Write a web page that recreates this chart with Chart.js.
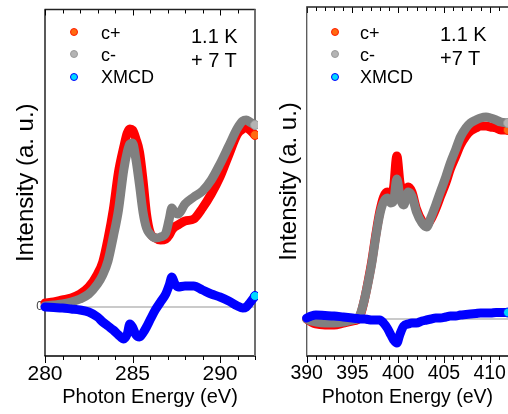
<!DOCTYPE html>
<html><head><meta charset="utf-8">
<script src="https://cdn.jsdelivr.net/npm/chart.js@4.4.0/dist/chart.umd.min.js"></script>
<style>
html,body{margin:0;padding:0;background:#fff;width:508px;height:414px;overflow:hidden;font-family:"Liberation Sans",Arial,sans-serif;}
.wrap{position:absolute;top:0;height:414px;}
.t{position:absolute;line-height:1;white-space:nowrap;color:#000;}
.m{position:absolute;border-radius:50%;box-sizing:border-box;border-width:1px;border-style:solid;}
</style></head><body>
<div class="wrap" style="left:0;width:258px"><canvas id="c1" width="258" height="414"></canvas></div>
<div class="wrap" style="left:260px;width:248px"><canvas id="c2" width="248" height="414"></canvas></div>
<div id="overlay"></div>
<script>
// ---------- data (left panel: C K-edge) ----------
const leftEnergy = [280, 280.5, 281, 281.5, 282, 282.5, 283, 283.3, 283.6, 283.9, 284.2, 284.5, 284.7, 284.85, 285.0, 285.2, 285.4, 285.6, 285.8, 286.0, 286.3, 286.6, 286.9, 287.1, 287.25, 287.4, 287.6, 288.0, 288.5, 289.0, 289.5, 290.0, 290.5, 291.0, 291.3, 291.5, 291.7, 292.0];
const leftCplus = [0.04, 0.05, 0.07, 0.09, 0.13, 0.20, 0.33, 0.45, 0.68, 0.97, 1.35, 1.60, 1.74, 1.78, 1.77, 1.68, 1.55, 1.27, 0.93, 0.75, 0.69, 0.67, 0.68, 0.72, 0.77, 0.80, 0.82, 0.86, 0.88, 0.99, 1.13, 1.30, 1.52, 1.73, 1.78, 1.80, 1.77, 1.72];
const leftCminus = [0.01, 0.02, 0.03, 0.05, 0.08, 0.13, 0.23, 0.32, 0.46, 0.70, 0.97, 1.37, 1.55, 1.63, 1.64, 1.47, 1.22, 0.95, 0.79, 0.73, 0.69, 0.70, 0.74, 0.88, 0.99, 0.95, 0.93, 1.03, 1.10, 1.16, 1.27, 1.43, 1.61, 1.79, 1.86, 1.87, 1.85, 1.82];
const leftXMCD = [0.0, -0.005, -0.01, -0.02, -0.03, -0.05, -0.10, -0.15, -0.19, -0.23, -0.28, -0.32, -0.27, -0.17, -0.20, -0.28, -0.30, -0.26, -0.20, -0.13, -0.03, 0.05, 0.13, 0.22, 0.30, 0.24, 0.20, 0.21, 0.21, 0.17, 0.13, 0.10, 0.06, 0.01, -0.01, 0.0, 0.04, 0.11];

// ---------- data (right panel: N K-edge) ----------
const rightEnergy = [390, 390.5, 391, 392, 393, 394, 395, 395.5, 395.9, 396.3, 396.7, 397.1, 397.6, 398.0, 398.4, 398.8, 399.2, 399.5, 399.85, 400.2, 400.6, 401.1, 401.5, 402.0, 402.6, 403.1, 403.6, 404.1, 404.6, 405.2, 405.7, 406.3, 406.8, 407.4, 407.9, 408.5, 409.0, 409.6, 410.1, 410.7, 411.2, 412.0];
const rightCplus = [0.0, -0.03, -0.05, -0.06, -0.06, -0.04, -0.02, -0.01, 0.05, 0.19, 0.37, 0.57, 0.87, 1.08, 1.22, 1.27, 1.25, 1.32, 1.63, 1.36, 1.26, 1.32, 1.27, 1.10, 0.98, 0.94, 1.00, 1.10, 1.22, 1.36, 1.50, 1.63, 1.74, 1.83, 1.88, 1.91, 1.93, 1.93, 1.92, 1.91, 1.89, 1.89];
const rightCminus = [0.0, -0.02, -0.03, -0.04, -0.04, -0.03, -0.01, 0.0, 0.06, 0.19, 0.36, 0.55, 0.85, 1.05, 1.17, 1.21, 1.16, 1.18, 1.40, 1.22, 1.14, 1.27, 1.23, 1.07, 0.96, 0.92, 1.02, 1.14, 1.27, 1.42, 1.56, 1.70, 1.82, 1.91, 1.96, 1.99, 2.01, 2.02, 2.01, 1.99, 1.97, 1.96];
const rightXMCD = [0.01, 0.03, 0.04, 0.035, 0.03, 0.02, 0.01, 0.005, 0.0, 0.0, -0.005, -0.01, -0.01, -0.01, -0.04, -0.09, -0.16, -0.21, -0.24, -0.15, -0.07, -0.05, -0.04, -0.04, -0.02, -0.01, 0.0, 0.01, 0.01, 0.02, 0.03, 0.03, 0.04, 0.045, 0.05, 0.055, 0.06, 0.06, 0.06, 0.065, 0.065, 0.065];

const seriesNames = ['c+', 'c-', 'XMCD'];
const leftNotes = ['1.1 K', '+ 7 T'];
const rightNotes = ['1.1 K', '+7 T'];
const xTitle = 'Photon Energy (eV)';
const yTitle = 'Intensity (a. u.)';

const FAM = '"Liberation Sans", Arial, sans-serif';
const STY = [
  {line:'#ff0000', fill:'#ff6a10', edge:'#ff1a00', order:3},
  {line:'#808080', fill:'#b4b4b4', edge:'#9a9a9a', order:2},
  {line:'#0000ff', fill:'#00d8ff', edge:'#0000ff', order:1}
];

function ds(i, E, Y) {
  const s = STY[i];
  return {
    label: seriesNames[i],
    data: E.map((e, k) => ({x: e, y: Y[k]})),
    borderColor: s.line, borderWidth: 9,
    borderCapStyle: 'round', borderJoinStyle: 'round',
    cubicInterpolationMode: 'monotone', fill: false, clip: false, order: s.order,
    pointRadius: c => c.dataIndex === E.length - 1 ? 4.5 : 0,
    pointHoverRadius: 0,
    pointBackgroundColor: s.fill, pointBorderColor: s.edge, pointBorderWidth: 1
  };
}

const framePlugin = {
  id: 'frame',
  beforeDatasetsDraw(chart) {
    const o = chart.options.plugins.frame;
    const {ctx, chartArea: a, scales: {x, y}} = chart;
    const ln = (x1, y1, x2, y2) => { ctx.beginPath(); ctx.moveTo(x1, y1); ctx.lineTo(x2, y2); ctx.stroke(); };
    ctx.save();
    const y0 = y.getPixelForValue(0);
    ctx.strokeStyle = '#b8b8b8'; ctx.lineWidth = 1.6;
    ln(a.left, y0, a.right, y0);
    ctx.strokeStyle = '#000'; ctx.lineWidth = 1;
    for (const t of x.ticks) {
      const px = Math.round(x.getPixelForValue(t.value)) + 0.5;
      const major = t.value % 5 === 0;
      ln(px, a.bottom, px, a.bottom + (major ? 7 : 4));
      ln(px, a.top, px, a.top + (major ? 6 : 4));
    }
    ctx.lineWidth = 1.3;
    ctx.strokeStyle = '#000';
    ln(a.left - 0.5, a.bottom, a.right + 0.5, a.bottom);
    ctx.strokeStyle = '#222';
    ln(a.left - 0.5, a.top, a.right + 0.5, a.top);
    ctx.strokeStyle = o.leftColor;
    ln(a.left, a.top, a.left, a.bottom);
    if (o.rightColor) { ctx.strokeStyle = o.rightColor; ctx.lineWidth = 2; ln(a.right, a.top, a.right, a.bottom); }
    ctx.restore();
  }
};

function makeChart(id, c) {
  return new Chart(document.getElementById(id), {
    type: 'line',
    data: { datasets: [ds(0, c.E, c.plus), ds(1, c.E, c.minus), ds(2, c.E, c.xmcd)] },
    options: {
      responsive: false, animation: false, events: [],
      layout: { autoPadding: false, padding: { left: 0, right: c.padRight, top: c.padTop, bottom: 0 } },
      plugins: { legend: { display: false }, tooltip: { enabled: false },
        frame: { leftColor: c.leftColor, rightColor: c.rightColor } },
      scales: {
        x: {
          type: 'linear', min: c.xmin, max: c.xmax,
          afterFit: s => { s.height = 58; s.paddingLeft = 0; s.paddingRight = 0; },
          grid: { display: false, drawTicks: false }, border: { display: false },
          ticks: { stepSize: 1, autoSkip: false, maxRotation: 0, padding: 6, color: '#000',
            font: { size: c.tickSize, family: FAM },
            callback: v => (v % 5 === 0 ? String(v) : '') },
          title: { display: true, text: xTitle, color: '#000', font: { size: c.xTitleSize, family: FAM },
            padding: { top: 0, bottom: 5 } }
        },
        y: {
          type: 'linear', min: c.ymin, max: c.ymax,
          afterFit: s => { s.width = c.yWidth; s.paddingTop = 0; s.paddingBottom = 0; },
          afterBuildTicks: s => { s.ticks = c.showZero ? [{value: 0}] : []; },
          grid: { display: false, drawTicks: false }, border: { display: false },
          ticks: { display: c.showZero, padding: 2, color: '#444', font: { size: 12, family: FAM },
            callback: v => String(v) },
          title: { display: true, text: yTitle, color: '#000', font: { size: 24, family: FAM },
            padding: { top: c.yTitlePad, bottom: 0 } }
        }
      }
    },
    plugins: [framePlugin]
  });
}

makeChart('c1', { E: leftEnergy, plus: leftCplus, minus: leftCminus, xmcd: leftXMCD,
  xmin: 280, xmax: 292, ymin: -0.49, ymax: 2.975, padRight: 3, padTop: 9.5, yWidth: 45,
  tickSize: 21, xTitleSize: 20, yTitlePad: 11.6, showZero: true, leftColor: '#000', rightColor: '#707070' });
makeChart('c2', { E: rightEnergy, plus: rightCplus, minus: rightCminus, xmcd: rightXMCD,
  xmin: 390, xmax: 412, ymin: -0.37, ymax: 3.12, padRight: 0, padTop: 7, yWidth: 46.7,
  tickSize: 19.5, xTitleSize: 19.5, yTitlePad: 14.6, showZero: false, leftColor: '#555', rightColor: null });

// ---------- legend & annotations (HTML text) ----------
const ov = document.getElementById('overlay');
function txt(s, x, base, size) {
  const d = document.createElement('div');
  d.className = 't'; d.textContent = s;
  d.style.left = x + 'px'; d.style.top = (base - 0.8465 * size) + 'px'; d.style.fontSize = size + 'px';
  ov.appendChild(d);
}
function mark(i, cx, cy) {
  const d = document.createElement('div'); const r = 4;
  d.className = 'm';
  d.style.left = (cx - r) + 'px'; d.style.top = (cy - r) + 'px';
  d.style.width = 2 * r + 'px'; d.style.height = 2 * r + 'px';
  d.style.background = STY[i].fill; d.style.borderColor = STY[i].edge;
  ov.appendChild(d);
}
const legY = [32.3, 54.3, 77.3], legBase = [39, 61, 83];
[[74, 101, leftNotes, 191, [43.3, 66.7]], [335, 360, rightNotes, 440, [40.7, 65]]].forEach(p => {
  for (let i = 0; i < 3; i++) { mark(i, p[0], legY[i]); txt(seriesNames[i], p[1], legBase[i], 18); }
  txt(p[2][0], p[3], p[4][0], 20); txt(p[2][1], p[3], p[4][1], 20);
});
</script>
</body></html>
